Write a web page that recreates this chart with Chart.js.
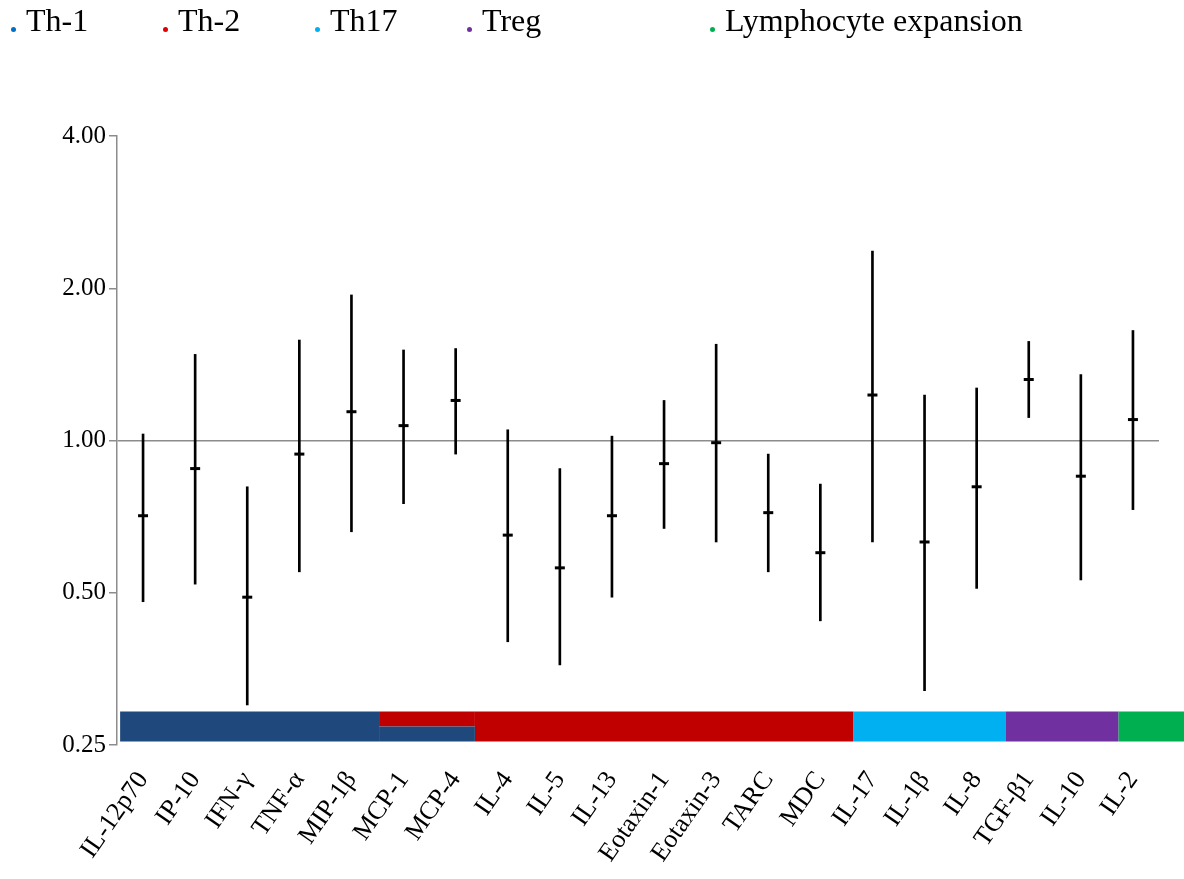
<!DOCTYPE html>
<html>
<head>
<meta charset="utf-8">
<script src="https://cdn.jsdelivr.net/npm/chart.js@4.4.0/dist/chart.umd.min.js"></script>
<style>
body { margin: 0; background: #fff; }
#wrap { position: relative; width: 1184px; height: 879px; }
#legend { position: absolute; left: 0; top: 0; width: 1184px; height: 50px; font-family: "Liberation Serif", serif; font-size: 32px; color: #000; }
.item { position: absolute; top: 2px; line-height: 36px; white-space: nowrap; }
.dot { position: absolute; width: 5px; height: 5px; border-radius: 50%; top: 27px; }
</style>
</head>
<body>
<div id="wrap">
<canvas id="chart"></canvas>
<div id="legend"></div>
</div>
<script>
const categories = ['IL-12p70', 'IP-10', 'IFN-γ', 'TNF-α', 'MIP-1β', 'MCP-1', 'MCP-4', 'IL-4', 'IL-5', 'IL-13',
	'Eotaxin-1', 'Eotaxin-3', 'TARC', 'MDC', 'IL-17', 'IL-1β', 'IL-8', 'TGF-β1', 'IL-10', 'IL-2'];
const means = [0.71, 0.88, 0.49, 0.94, 1.14, 1.07, 1.20, 0.65, 0.56, 0.71, 0.90, 0.99, 0.72, 0.60, 1.23, 0.63, 0.81, 1.32, 0.85, 1.10];
const lows = [0.48, 0.52, 0.30, 0.55, 0.66, 0.75, 0.94, 0.40, 0.36, 0.49, 0.67, 0.63, 0.55, 0.44, 0.63, 0.32, 0.51, 1.11, 0.53, 0.73];
const highs = [1.03, 1.48, 0.81, 1.58, 1.94, 1.51, 1.52, 1.05, 0.88, 1.02, 1.20, 1.55, 0.94, 0.82, 2.37, 1.23, 1.27, 1.57, 1.35, 1.65];
const yTicks = [0.25, 0.5, 1, 2, 4];

// groups shown as coloured strips under the data
const groupNames = ['Th-1', 'Th-2', 'Th17', 'Treg', 'Lymphocyte expansion'];
const groupColors = ['#1F497D', '#C00000', '#00B0F0', '#7030A0', '#00B050'];
const legendDotColors = ['#0070C0', '#E00000', '#00B0F0', '#7030A0', '#00B050'];

// strip pieces: group index, span in category units, span in y values
const bandGroup = [0, 0, 1, 1, 2, 3, 4];
const bandFrom = [-0.44, 4.53, 4.53, 6.37, 13.63, 16.55, 18.72];
const bandTo = [4.53, 6.37, 6.37, 13.63, 16.55, 18.72, 19.98];
const bandLow = [0.254, 0.254, 0.2719, 0.254, 0.254, 0.254, 0.254];
const bandHigh = [0.2912, 0.2719, 0.2912, 0.2912, 0.2912, 0.2912, 0.2912];

// html legend
const legendLeft = [13, 165, 317, 469, 712];
const legend = document.getElementById('legend');
groupNames.forEach((name, i) => {
	const d = document.createElement('span');
	d.className = 'dot';
	d.style.left = (legendLeft[i] - 2) + 'px';
	d.style.background = legendDotColors[i];
	legend.appendChild(d);
	const t = document.createElement('span');
	t.className = 'item';
	t.style.left = (legendLeft[i] + 13) + 'px';
	t.textContent = name;
	legend.appendChild(t);
});

const bandSets = bandGroup.map((g, i) => {
	const mid = Math.sqrt(bandLow[i] * bandHigh[i]);
	return {
		type: 'line',
		data: [{ x: bandFrom[i], y: mid }, { x: bandTo[i], y: mid }],
		borderColor: groupColors[g],
		borderWidth: c => {
			const y = c.chart.scales.y;
			return y.getPixelForValue(bandLow[i]) - y.getPixelForValue(bandHigh[i]);
		},
		borderCapStyle: 'butt',
		pointRadius: 0,
		clip: false,
		order: 5
	};
});

const ctx = document.getElementById('chart').getContext('2d');
const chart = new Chart(ctx, {
	type: 'bar',
	data: {
		datasets: [
			{
				type: 'line',
				data: means.map((m, i) => ({ x: i, y: m })),
				showLine: false,
				pointStyle: 'line',
				pointRadius: 5,
				pointBorderWidth: 3,
				borderColor: '#000',
				backgroundColor: '#000',
				order: 1
			},
			{
				type: 'bar',
				data: lows.map((l, i) => ({ x: i, y: [l, highs[i]] })),
				backgroundColor: '#000',
				barThickness: 2,
				order: 2
			},
			...bandSets
		]
	},
	options: {
		responsive: true,
		maintainAspectRatio: false,
		animation: false,
		layout: { padding: { top: 136, right: 25, left: 0, bottom: 0 } },
		plugins: {
			legend: { display: false },
			tooltip: { enabled: false }
		},
		scales: {
			x: {
				type: 'linear',
				min: -0.5,
				max: 19.5,
				offset: false,
				afterBuildTicks: s => { s.ticks = categories.map((c, i) => ({ value: i })); },
				grid: { display: false },
				border: { display: false },
				ticks: {
					autoSkip: false,
					minRotation: 55,
					maxRotation: 55,
					padding: 13,
					color: '#000',
					font: { family: 'Liberation Serif', size: 26 },
					callback: v => categories[v]
				},
				afterFit: s => { s.height = 134; }
			},
			y: {
				type: 'logarithmic',
				min: 0.25,
				max: 4,
				afterBuildTicks: s => { s.ticks = yTicks.map(v => ({ value: v })); },
				afterFit: s => { s.width = 117; },
				border: { color: '#8c8c8c', width: 1.5 },
				grid: {
					color: c => (c.tick && c.tick.value === 1) ? '#8c8c8c' : 'rgba(0,0,0,0)',
					lineWidth: 1.5,
					tickColor: '#8c8c8c',
					tickLength: 8
				},
				ticks: {
					autoSkip: false,
					padding: 3,
					color: '#000',
					font: { family: 'Liberation Serif', size: 25 },
					callback: v => Number(v).toFixed(2)
				}
			}
		}
	}
});
</script>
</body>
</html>
